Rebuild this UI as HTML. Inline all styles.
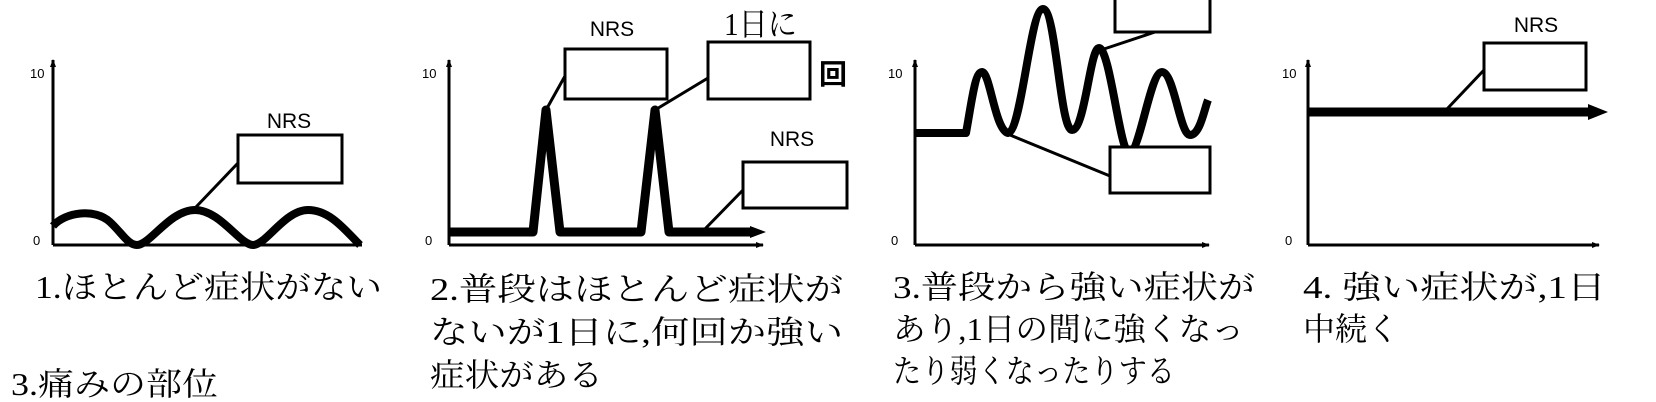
<!DOCTYPE html>
<html><head><meta charset="utf-8"><style>
html,body{margin:0;padding:0;background:#fff;}
svg{display:block;}
.nrs{font-family:"Liberation Sans","DejaVu Sans",sans-serif;font-size:21px;}
.ax{font-family:"Liberation Sans",sans-serif;font-size:13px;}
.cap{font-family:"Liberation Serif","Noto Serif CJK JP","Noto Sans CJK JP",serif;font-size:32px;}
</style></head><body>
<svg width="1656" height="402" viewBox="0 0 1656 402" xmlns="http://www.w3.org/2000/svg">
<defs>
<marker id="ah" markerWidth="8" markerHeight="8" refX="7" refY="4" orient="auto" markerUnits="userSpaceOnUse"><path d="M0,1 L8,4 L0,7 Z" fill="#000"/></marker>
</defs>
<g stroke="#000" fill="none" stroke-width="3">
<line x1="53" y1="245" x2="53" y2="60" marker-end="url(#ah)"/>
<line x1="53" y1="245" x2="362" y2="245"/>
<path d="M53,226 C65,212 95,208 110,222 C122,233 128,245 137,245 C150,245 170,210 195,210 C220,210 240,245 253,245 C266,245 285,210 308,210 C330,210 345,230 360,245" stroke-width="8"/>
<rect x="238" y="135" width="104" height="48" fill="#fff"/>
<line x1="196" y1="207" x2="238" y2="163"/>
<line x1="449" y1="245" x2="449" y2="60" marker-end="url(#ah)"/>
<line x1="449" y1="245" x2="763" y2="245" marker-end="url(#ah)"/>
<path d="M449,232 L533,232 L546,110 L560,232 L641,232 L655,110 L669,232 L752,232" stroke-width="9" stroke-linejoin="round"/>
<path d="M750,226 L766,232 L750,238 Z" fill="#000" stroke="none"/>
<rect x="565" y="49" width="102" height="50" fill="#fff"/>
<line x1="546" y1="110" x2="565" y2="76"/>
<rect x="708" y="42" width="102" height="57" fill="#fff"/>
<line x1="655" y1="110" x2="708" y2="78"/>
<rect x="743" y="162" width="104" height="46" fill="#fff"/>
<line x1="702" y1="232" x2="743" y2="190"/>
<line x1="915" y1="245" x2="915" y2="60" marker-end="url(#ah)"/>
<line x1="915" y1="245" x2="1209" y2="245" marker-end="url(#ah)"/>
<path d="M915,133 L966,133 C972,100 975,72 982,72 C990,72 995,130 1008,133 C1022,130 1030,9 1043,9 C1056,9 1060,130 1072,130 C1085,130 1090,48 1099,48 C1110,48 1120,153 1129,153 C1140,153 1150,72 1162,72 C1174,72 1180,135 1190,135 C1200,135 1204,110 1208,100" stroke-width="8" stroke-linejoin="round"/>
<rect x="1115" y="-5" width="95" height="37" fill="#fff"/>
<line x1="1101" y1="50" x2="1155" y2="32"/>
<rect x="1110" y="147" width="100" height="46" fill="#fff"/>
<line x1="1010" y1="135" x2="1110" y2="176"/>
<line x1="1308" y1="245" x2="1308" y2="60" marker-end="url(#ah)"/>
<line x1="1308" y1="245" x2="1599" y2="245" marker-end="url(#ah)"/>
<line x1="1308" y1="112" x2="1592" y2="112" stroke-width="9"/>
<path d="M1588,104 L1608,112 L1588,120 Z" fill="#000" stroke="none"/>
<rect x="1484" y="43" width="102" height="47" fill="#fff"/>
<line x1="1447" y1="109" x2="1484" y2="70"/>
</g>
<g fill="#000">
<text class="ax" x="30" y="78">10</text><text class="ax" x="33" y="245">0</text>
<text class="ax" x="422" y="78">10</text><text class="ax" x="425" y="245">0</text>
<text class="ax" x="888" y="78">10</text><text class="ax" x="891" y="245">0</text>
<text class="ax" x="1282" y="78">10</text><text class="ax" x="1285" y="245">0</text>
<text class="nrs" x="289" y="128" text-anchor="middle">NRS</text>
<text class="nrs" x="612" y="36" text-anchor="middle">NRS</text>
<text class="nrs" x="792" y="146" text-anchor="middle">NRS</text>
<text class="nrs" x="1536" y="32" text-anchor="middle">NRS</text>
<text class="cap" x="724" y="35" font-size="27" textLength="73" lengthAdjust="spacingAndGlyphs">1日に</text>
<text x="819" y="84" font-family="'Noto Sans CJK JP',sans-serif" font-weight="bold" font-size="28">回</text>
<text class="cap" x="35" y="298" textLength="347" lengthAdjust="spacingAndGlyphs">1.ほとんど症状がない</text>
<text class="cap" x="430" y="300" textLength="413" lengthAdjust="spacingAndGlyphs">2.普段はほとんど症状が</text>
<text class="cap" x="430" y="343" textLength="413" lengthAdjust="spacingAndGlyphs">ないが1日に,何回か強い</text>
<text class="cap" x="430" y="386" textLength="173" lengthAdjust="spacingAndGlyphs">症状がある</text>
<text class="cap" x="893" y="298" textLength="362" lengthAdjust="spacingAndGlyphs">3.普段から強い症状が</text>
<text class="cap" x="893" y="340" textLength="351" lengthAdjust="spacingAndGlyphs">あり,1日の間に強くなっ</text>
<text class="cap" x="893" y="382" textLength="282" lengthAdjust="spacingAndGlyphs">たり弱くなったりする</text>
<text class="cap" x="1303" y="298" textLength="303" lengthAdjust="spacingAndGlyphs">4. 強い症状が,1日</text>
<text class="cap" x="1303" y="340" textLength="96" lengthAdjust="spacingAndGlyphs">中続く</text>
<text class="cap" x="11" y="395" textLength="207" lengthAdjust="spacingAndGlyphs">3.痛みの部位</text>
</g>
</svg>
</body></html>
